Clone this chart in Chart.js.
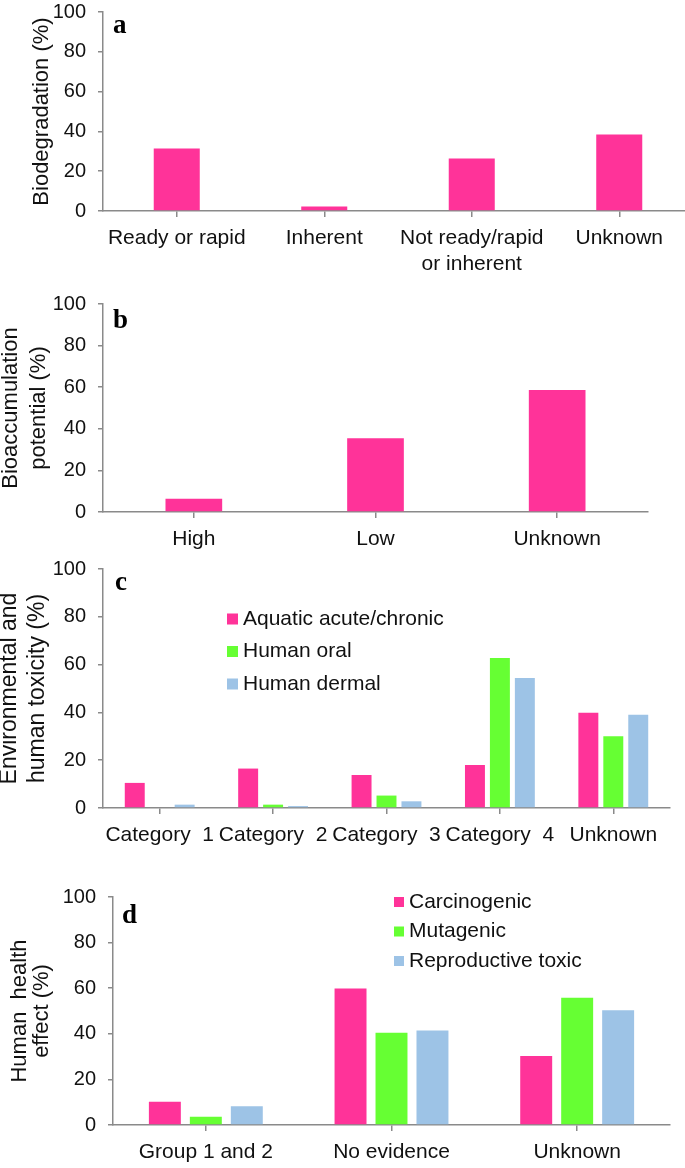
<!DOCTYPE html>
<html lang="en">
<head>
  <meta charset="UTF-8">
  <title>Hazard profile</title>
  <script src="https://cdn.jsdelivr.net/npm/chart.js"></script>
  <style>
    html, body {
      margin: 0;
      padding: 0;
      background: #fff;
      overflow: hidden;
    }
    .page {
      position: relative;
      width: 685px;
      height: 1168px;
      overflow: hidden;
    }
    .panel {
      position: absolute;
      left: -10px;
      width: 710px;
    }
  </style>
</head>
<body>
  <div class="page">
    <!-- the y scale reserves 24px above the plot for the "100" label -->
    <div class="panel" style="top:-12px;height:287px"><canvas id="chartA"></canvas></div>
    <div class="panel" style="top:280px;height:292px"><canvas id="chartB"></canvas></div>
    <div class="panel" style="top:545px;height:320px"><canvas id="chartC"></canvas></div>
    <div class="panel" style="top:873px;height:295px"><canvas id="chartD"></canvas></div>
  </div>

  <script>
    // a - biodegradation
    const bioLabels = ['Ready or rapid', 'Inherent', ['Not ready/rapid', 'or inherent'], 'Unknown'];
    const bioValues = [31.4, 2.3, 26.4, 38.5];

    // b - bioaccumulation
    const accLabels = ['High', 'Low', 'Unknown'];
    const accValues = [6.4, 35.5, 58.6];

    // c - toxicity
    const toxLabels = ['Category  1', 'Category  2', 'Category  3', 'Category  4', 'Unknown'];
    const toxAquatic = [10.5, 16.5, 13.8, 18.0, 39.9];
    const toxOral = [0, 1.4, 5.2, 62.8, 30.0];
    const toxDermal = [1.4, 0.8, 2.8, 54.4, 39.0];

    // d - human health
    const healthLabels = ['Group 1 and 2', 'No evidence', 'Unknown'];
    const carcinogenic = [10.2, 59.9, 30.3];
    const mutagenic = [3.6, 40.5, 55.8];
    const reproductive = [8.2, 41.4, 50.3];

    const PINK = '#FF3399';
    const GREEN = '#66FF33';
    const BLUE = '#9DC3E6';
    const AXIS = '#8a8a8a';
    const TEXT = '#111';
    const SANS = '"Liberation Sans", Arial, sans-serif';

    // panel letter (a, b, c, d)
    const panelTag = {
      id: 'panelTag',
      afterDraw(chart, args, opts) {
        const { ctx, chartArea } = chart;
        ctx.save();
        ctx.font = 'bold 27px "Liberation Serif", "Times New Roman", serif';
        ctx.fillStyle = '#000';
        ctx.textBaseline = 'alphabetic';
        ctx.fillText(opts.text, chartArea.left + opts.dx, chartArea.top + opts.dy);
        ctx.restore();
      }
    };

    // small legend inside the plot
    const boxLegend = {
      id: 'boxLegend',
      afterDraw(chart, args, opts) {
        const { ctx, chartArea } = chart;
        ctx.save();
        ctx.font = '21px ' + SANS;
        ctx.textBaseline = 'middle';
        chart.data.datasets.forEach((ds, i) => {
          const x = chartArea.left + opts.dx;
          const y = chartArea.top + opts.dy + i * opts.gap;
          ctx.fillStyle = ds.backgroundColor;
          ctx.fillRect(x, y - opts.box / 2, opts.box, opts.box);
          ctx.fillStyle = TEXT;
          ctx.fillText(ds.label, x + opts.box + 5, y);
        });
        ctx.restore();
      }
    };

    function makeChart(id, labels, datasets, cfg) {
      return new Chart(document.getElementById(id), {
        type: 'bar',
        data: { labels: labels, datasets: datasets },
        plugins: [panelTag, boxLegend],
        options: {
          responsive: true,
          maintainAspectRatio: false,
          animation: false,
          layout: { padding: { top: 0, right: cfg.padRight, bottom: 0, left: 0 } },
          datasets: {
            bar: { categoryPercentage: cfg.catPct, barPercentage: cfg.barPct }
          },
          plugins: {
            legend: { display: false },
            tooltip: { enabled: false },
            panelTag: cfg.tag,
            boxLegend: cfg.legend || false
          },
          scales: {
            x: {
              offset: true,
              grid: { drawOnChartArea: false, offset: false, tickLength: 6, color: AXIS, lineWidth: 1.5 },
              border: { color: AXIS, width: 1.5 },
              ticks: {
                autoSkip: false, maxRotation: 0, minRotation: 0, padding: 9,
                color: TEXT, font: { family: SANS, size: 21, lineHeight: 1.2 }
              },
              afterFit(scale) { scale.height = cfg.xHeight; }
            },
            y: {
              min: 0,
              max: 100,
              grid: { drawOnChartArea: false, tickLength: 5, color: AXIS, lineWidth: 1.5 },
              border: { color: AXIS, width: 1.5 },
              ticks: { stepSize: 20, padding: 12, color: TEXT, font: { family: SANS, size: 20 } },
              title: {
                display: true,
                text: cfg.title,
                color: TEXT,
                font: { family: SANS, size: cfg.titleSize, lineHeight: cfg.titleLine },
                padding: { top: cfg.titlePad, bottom: 0 }
              },
              afterFit(scale) { scale.width = cfg.yWidth; }
            }
          }
        }
      });
    }

    makeChart('chartA', bioLabels, [
      { label: 'Biodegradation', data: bioValues, backgroundColor: PINK }
    ], {
      padRight: 7, catPct: 0.8, barPct: 0.39, xHeight: 64, yWidth: 113,
      title: 'Biodegradation (%)', titleSize: 22, titleLine: 1.2, titlePad: 38.8,
      tag: { text: 'a', dx: 10, dy: 21 }
    });

    makeChart('chartB', accLabels, [
      { label: 'Bioaccumulation', data: accValues, backgroundColor: PINK }
    ], {
      padRight: 52, catPct: 0.8, barPct: 0.39, xHeight: 60, yWidth: 113,
      title: ['Bioaccumulation', 'potential (%)'], titleSize: 22, titleLine: 1.27, titlePad: 6.6,
      tag: { text: 'b', dx: 10, dy: 24 }
    });

    makeChart('chartC', toxLabels, [
      { label: 'Aquatic acute/chronic', data: toxAquatic, backgroundColor: PINK },
      { label: 'Human oral', data: toxOral, backgroundColor: GREEN },
      { label: 'Human dermal', data: toxDermal, backgroundColor: BLUE }
    ], {
      padRight: 30, catPct: 0.66, barPct: 0.8, xHeight: 57, yWidth: 113,
      title: ['Environmental and', 'human toxicity (%)'], titleSize: 23, titleLine: 1.22, titlePad: 6,
      tag: { text: 'c', dx: 12, dy: 21 },
      legend: { dx: 124, dy: 50, gap: 32.5, box: 11 }
    });

    makeChart('chartD', healthLabels, [
      { label: 'Carcinogenic', data: carcinogenic, backgroundColor: PINK },
      { label: 'Mutagenic', data: mutagenic, backgroundColor: GREEN },
      { label: 'Reproductive toxic', data: reproductive, backgroundColor: BLUE }
    ], {
      padRight: 30, catPct: 0.662, barPct: 0.78, xHeight: 43, yWidth: 123,
      title: ['Human  health', 'effect (%)'], titleSize: 22, titleLine: 1.0, titlePad: 19.3,
      tag: { text: 'd', dx: 9, dy: 26 },
      legend: { dx: 281, dy: 5, gap: 29.5, box: 10 }
    });
  </script>
</body>
</html>
